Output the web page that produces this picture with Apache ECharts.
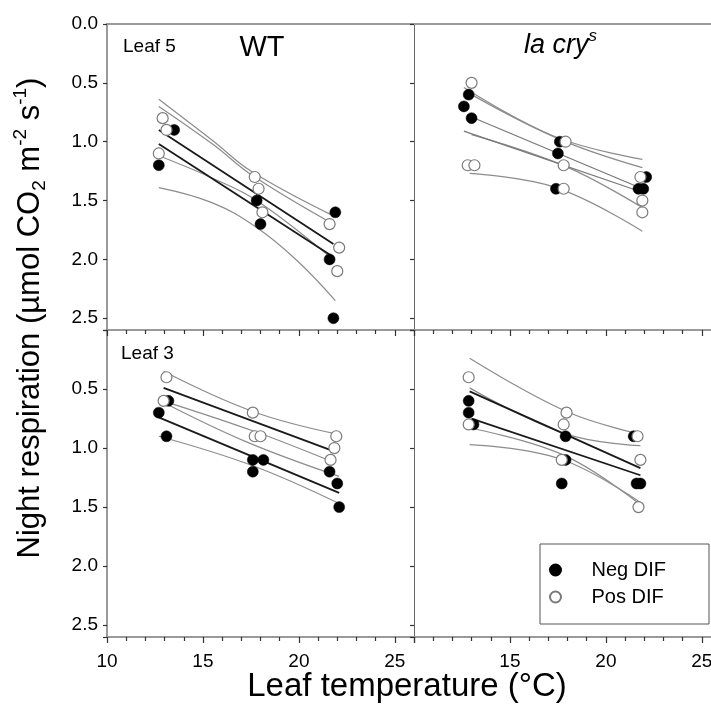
<!DOCTYPE html>
<html><head><meta charset="utf-8">
<script src="https://cdn.jsdelivr.net/npm/echarts@6/dist/echarts.min.js"></script>
<style>html,body{margin:0;padding:0;background:#fff}#c{width:711px;height:722px}</style>
</head><body><div id="c"></div>
<script>
// ---------- axis settings ----------
const xMin = 10, xMax = 26, xStep = 5;
const yMin = 0, yMax = 2.6, yStep = 0.5;
const seriesNames = ['Neg DIF', 'Pos DIF'];
const leafLabels = ['Leaf 5', 'Leaf 3'];

// ---------- Panel A: WT, leaf 5 ----------
const wt5NegPts = [[13.5,0.9],[12.7,1.2],[17.8,1.5],[18.0,1.7],[21.9,1.6],[21.6,2.0],[21.8,2.5]];
const wt5PosPts = [[12.9,0.8],[13.1,0.9],[12.7,1.1],[17.7,1.3],[17.9,1.4],[18.1,1.6],[21.6,1.7],[22.1,1.9],[22.0,2.1]];
const wt5NegFit = [[12.7,1.02],[21.7,1.97]];
const wt5PosFit = [[12.7,0.90],[21.8,1.87]];
const wt5NegUpper = [[12.7,0.70],[15.5,1.02],[17.6,1.29],[21.9,1.71]];
const wt5NegLower = [[12.7,1.39],[15.5,1.52],[17.8,1.73],[19.9,2.01],[21.9,2.35]];
const wt5PosUpper = [[12.7,0.64],[15.5,0.99],[17.6,1.26],[21.8,1.63]];
const wt5PosLower = [[12.7,1.12],[15.5,1.31],[17.8,1.50],[21.7,1.99]];

// ---------- Panel B: la cry^s, leaf 5 ----------
const lc5NegPts = [[12.85,0.6],[12.6,0.7],[13.0,0.8],[17.6,1.0],[17.5,1.1],[17.4,1.4],[22.1,1.3],[21.7,1.4],[21.95,1.4]];
const lc5PosPts = [[13.0,0.5],[12.8,1.2],[13.15,1.2],[17.9,1.0],[17.8,1.2],[17.8,1.4],[21.8,1.3],[21.9,1.5],[21.9,1.6]];
const lc5NegFit = [[13.0,0.79],[21.9,1.40]];
const lc5PosFit = [[12.6,0.91],[21.9,1.43]];
const lc5NegUpper = [[12.6,0.54],[17.4,0.96],[21.9,1.15]];
const lc5NegLower = [[13.0,0.94],[17.9,1.21],[21.9,1.56]];
const lc5PosUpper = [[13.0,0.60],[17.6,0.98],[21.9,1.22]];
const lc5PosLower = [[12.9,1.27],[17.4,1.39],[21.9,1.76]];

// ---------- Panel C: WT, leaf 3 ----------
const wt3NegPts = [[13.2,0.6],[12.7,0.7],[13.1,0.9],[17.6,1.1],[18.15,1.1],[17.6,1.2],[21.6,1.2],[22.0,1.3],[22.1,1.5]];
const wt3PosPts = [[13.1,0.4],[12.95,0.6],[17.6,0.7],[17.7,0.9],[18.0,0.9],[21.95,0.9],[21.85,1.0],[21.65,1.1]];
const wt3NegFit = [[12.7,0.74],[22.1,1.38]];
const wt3PosFit = [[12.95,0.49],[21.7,1.02]];
const wt3NegUpper = [[12.9,0.61],[17.3,0.95],[22.1,1.24]];
const wt3NegLower = [[12.7,0.90],[17.6,1.15],[22.1,1.47]];
const wt3PosUpper = [[12.95,0.35],[17.6,0.69],[21.95,0.88]];
const wt3PosLower = [[12.9,0.60],[17.7,0.86],[21.8,1.12]];

// ---------- Panel D: la cry^s, leaf 3 ----------
const lc3NegPts = [[12.85,0.6],[12.85,0.7],[13.1,0.8],[17.9,0.9],[17.9,1.1],[17.7,1.3],[21.45,0.9],[21.6,1.3],[21.8,1.3]];
const lc3PosPts = [[12.85,0.4],[12.85,0.8],[17.95,0.7],[17.8,0.8],[17.7,1.1],[21.65,0.9],[21.8,1.1],[21.7,1.5]];
const lc3NegFit = [[13.0,0.75],[21.8,1.23]];
const lc3PosFit = [[12.9,0.52],[21.8,1.17]];
const lc3NegUpper = [[12.9,0.49],[17.9,0.88],[21.8,0.98]];
const lc3NegLower = [[12.9,0.97],[17.6,1.09],[21.8,1.46]];
const lc3PosUpper = [[12.9,0.24],[17.95,0.69],[21.75,0.88]];
const lc3PosLower = [[12.9,0.83],[17.8,1.06],[21.8,1.48]];

const panels = [
  {neg: wt5NegPts, pos: wt5PosPts, fits: [wt5NegFit, wt5PosFit], bands: [wt5NegUpper, wt5NegLower, wt5PosUpper, wt5PosLower], fitColor: '#1a1a1a'},
  {neg: lc5NegPts, pos: lc5PosPts, fits: [lc5NegFit, lc5PosFit], bands: [lc5NegUpper, lc5NegLower, lc5PosUpper, lc5PosLower], fitColor: '#777'},
  {neg: wt3NegPts, pos: wt3PosPts, fits: [wt3NegFit, wt3PosFit], bands: [wt3NegUpper, wt3NegLower, wt3PosUpper, wt3PosLower], fitColor: '#1a1a1a'},
  {neg: lc3NegPts, pos: lc3PosPts, fits: [lc3NegFit, lc3PosFit], bands: [lc3NegUpper, lc3NegLower, lc3PosUpper, lc3PosLower], fitColor: '#1a1a1a'}
];

const FONT = '"Liberation Sans", Arial, Helvetica, sans-serif';
const FRAME = '#9a9a9a';
const TICK = '#333';

const grids = [
  {left: 107, top: 24, width: 307, height: 306, outerBoundsMode: 'none', containLabel: false},
  {left: 414, top: 24, width: 307, height: 306, outerBoundsMode: 'none', containLabel: false},
  {left: 107, top: 330, width: 307, height: 307, outerBoundsMode: 'none', containLabel: false},
  {left: 414, top: 330, width: 307, height: 307, outerBoundsMode: 'none', containLabel: false}
];

function xLabelFmt(hideMin) {
  return function (v) {
    if (Math.abs(v % xStep) > 1e-6) return '';
    if (hideMin && v === xMin) return '';
    return String(v);
  };
}
function yLabelFmt(hideZero) {
  return function (v) {
    const k = v / yStep;
    if (Math.abs(k - Math.round(k)) > 1e-6) return '';
    if (hideZero && v === 0) return '';
    return v.toFixed(1);
  };
}

const xAxes = [];
const yAxes = [];
for (let i = 0; i < 4; i++) {
  const isBottomRow = i >= 2;
  const isRight = i % 2 === 1;
  xAxes.push({
    gridIndex: i, type: 'value', position: 'bottom', min: xMin, max: xMax, interval: xStep,
    axisLine: {show: isBottomRow, onZero: false, lineStyle: {color: FRAME, width: 2}},
    axisTick: {show: isBottomRow, length: 6, inside: false, lineStyle: {color: TICK, width: 1.2}},
    minorTick: {show: isBottomRow, splitNumber: 5, length: 4, lineStyle: {color: TICK, width: 1.2}},
    axisLabel: {show: isBottomRow, fontSize: 19, margin: 15, color: '#000', fontFamily: FONT, formatter: xLabelFmt(isRight)},
    splitLine: {show: false}
  });
}
for (let i = 0; i < 4; i++) {
  const isBottomRow = i >= 2;
  xAxes.push({
    gridIndex: i, type: 'value', position: 'top', min: xMin, max: xMax, interval: xStep,
    axisLine: {show: true, onZero: false, lineStyle: {color: FRAME, width: 2}},
    axisTick: {show: isBottomRow, length: 6, inside: true, lineStyle: {color: TICK, width: 1.2}},
    minorTick: {show: isBottomRow, splitNumber: 5, length: 4, lineStyle: {color: TICK, width: 1.2}},
    axisLabel: {show: false},
    splitLine: {show: false}
  });
}
for (let i = 0; i < 4; i++) {
  const isBottomRow = i >= 2;
  const isRight = i % 2 === 1;
  yAxes.push({
    gridIndex: i, type: 'value', inverse: true, min: yMin, max: yMax, interval: yStep,
    axisLine: {show: true, onZero: false, lineStyle: {color: isRight ? '#666' : FRAME, width: isRight ? 1 : 2}},
    axisTick: {show: true, length: 4, inside: false, lineStyle: {color: TICK, width: 1.2}},
    axisLabel: {show: !isRight, fontSize: 19, margin: 9, color: '#000', fontFamily: FONT, formatter: yLabelFmt(isBottomRow)},
    splitLine: {show: false}
  });
}

const series = [];
panels.forEach(function (p, i) {
  p.bands.forEach(function (b) {
    series.push({type: 'line', xAxisIndex: i, yAxisIndex: i, data: b, smooth: 0.4, symbol: 'none', silent: true, z: 2,
      lineStyle: {color: '#8c8c8c', width: 1.2}});
  });
  p.fits.forEach(function (f) {
    series.push({type: 'line', xAxisIndex: i, yAxisIndex: i, data: f, symbol: 'none', silent: true, z: 3,
      lineStyle: {color: p.fitColor, width: p.fitColor === '#777' ? 1.2 : 1.8}});
  });
  series.push({name: seriesNames[0], type: 'scatter', xAxisIndex: i, yAxisIndex: i, data: p.neg, symbol: 'circle', symbolSize: 11, z: 4,
    itemStyle: {color: '#000', borderColor: '#000', borderWidth: 0.5, opacity: 1}});
  series.push({name: seriesNames[1], type: 'scatter', xAxisIndex: i, yAxisIndex: i, data: p.pos, symbol: 'circle', symbolSize: 11, z: 5,
    itemStyle: {color: '#fff', borderColor: '#7a7a7a', borderWidth: 1.2, opacity: 1}});
});

const yTitle = '{a|Night respiration (\u00b5mol CO}{b|2}{a| m}{c|-2}{a| s}{c|-1}{a|)}';

const option = {
  animation: false,
  backgroundColor: '#fff',
  textStyle: {fontFamily: FONT},
  grid: grids,
  xAxis: xAxes,
  yAxis: yAxes,
  legend: {
    data: seriesNames, orient: 'vertical', left: 549, top: 560, itemWidth: 62, itemHeight: 11, itemGap: 7,
    padding: 0, selectedMode: false, textStyle: {fontSize: 20, color: '#000', fontFamily: FONT}
  },
  series: series,
  graphic: [
    {type: 'rect', shape: {x: 540, y: 544, width: 169, height: 80}, style: {fill: 'none', stroke: '#555', lineWidth: 1}, z: 1},
    {type: 'text', x: 123, y: 47, style: {text: leafLabels[0], fontSize: 19, fontFamily: FONT, fill: '#000', align: 'left', verticalAlign: 'middle', textAlign: 'left', textVerticalAlign: 'middle'}},
    {type: 'text', x: 121, y: 354, style: {text: leafLabels[1], fontSize: 19, fontFamily: FONT, fill: '#000', align: 'left', verticalAlign: 'middle', textAlign: 'left', textVerticalAlign: 'middle'}},
    {type: 'text', x: 262, y: 48, style: {text: 'WT', fontSize: 29, fontFamily: FONT, fill: '#000', align: 'center', verticalAlign: 'middle', textAlign: 'center', textVerticalAlign: 'middle'}},
    {type: 'text', x: 524, y: 45, style: {text: '{i|la cry}{s|s}', fontFamily: FONT, fill: '#000', align: 'left', verticalAlign: 'middle', textAlign: 'left', textVerticalAlign: 'middle',
      rich: {i: {fontSize: 27, fontStyle: 'italic', fontFamily: FONT, lineHeight: 34, fill: '#000'}, s: {fontSize: 17, fontStyle: 'italic', fontFamily: FONT, verticalAlign: 'top', lineHeight: 17, fill: '#000'}}}},
    {type: 'text', x: 30, y: 318, rotation: Math.PI / 2, style: {text: yTitle, fontFamily: FONT, fill: '#000', align: 'center', verticalAlign: 'middle', textAlign: 'center', textVerticalAlign: 'middle',
      rich: {a: {fontSize: 31, fontFamily: FONT, lineHeight: 38, fill: '#000'}, b: {fontSize: 19, fontFamily: FONT, verticalAlign: 'bottom', lineHeight: 19, fill: '#000'}, c: {fontSize: 19, fontFamily: FONT, verticalAlign: 'top', lineHeight: 19, fill: '#000'}}}},
    {type: 'text', x: 407, y: 687, style: {text: 'Leaf temperature (\u00b0C)', fontSize: 33, fontFamily: FONT, fill: '#000', align: 'center', verticalAlign: 'middle', textAlign: 'center', textVerticalAlign: 'middle'}}
  ]
};

const chart = echarts.init(document.getElementById('c'), null, {renderer: 'canvas'});
chart.setOption(option);
</script>
</body></html>
